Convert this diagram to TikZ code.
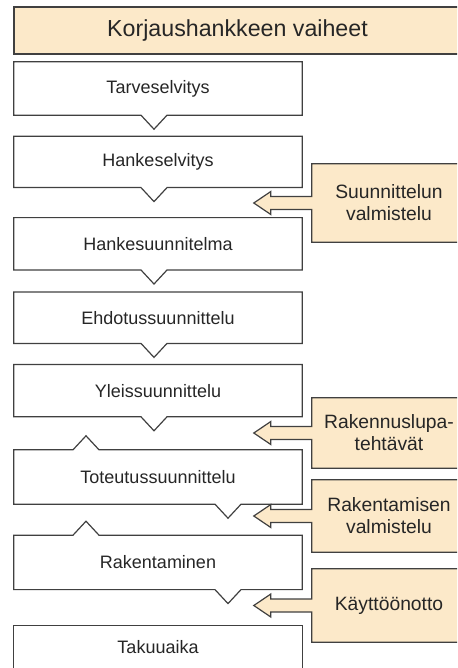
\documentclass[tikz,border=0pt]{standalone}
\usepackage{fontspec}
\setmainfont{Liberation Sans}
\usetikzlibrary{positioning,calc}
\definecolor{peach}{HTML}{FCE9C9}
\definecolor{edgegray}{HTML}{404040}
\definecolor{txtgray}{HTML}{262626}
\tikzset{
  stage/.style={minimum width=288pt, inner sep=0pt, text=txtgray,
                font=\fontsize{18}{21}\selectfont},
  callout/.style={fill=peach, minimum width=154pt, inner sep=0pt, align=center,
                  text=txtgray, font=\fontsize{19.3}{22}\selectfont},
  ttl/.style={draw=edgegray, fill=peach, line width=1.2pt, minimum width=447pt,
              minimum height=47pt, text=txtgray, font=\fontsize{23.2}{26}\selectfont},
  edge/.style={draw=edgegray, line width=1.2pt, line join=miter},
}
\begin{document}
\begin{tikzpicture}[x=1pt,y=-1pt]
    \useasboundingbox (0,0) rectangle (457,668);
    \clip (0,0) rectangle (457,668);
    \node[ttl] (title) at (237.5,30.5) {Korjaushankkeen vaiheet};
    % vaiheet
    \node[stage,minimum height=53pt] (s1) at (158,88.5) {Tarveselvitys};
    \node[stage,minimum height=51pt,below=21pt of s1] (s2) {Hankeselvitys};
    \node[stage,minimum height=52pt,below=30pt of s2] (s3) {Hankesuunnitelma};
    \node[stage,minimum height=51pt,below=22pt of s3] (s4) {Ehdotussuunnittelu};
    \node[stage,minimum height=52pt,below=21pt of s4] (s5) {Yleissuunnittelu};
    \node[stage,minimum height=54pt,below=33pt of s5] (s6) {Toteutussuunnittelu};
    \node[stage,minimum height=54pt,below=31pt of s6] (s7) {Rakentaminen};
    \node[stage,minimum height=43pt,below=36pt of s7] (s8) {Takuuaika};
    \foreach \s in {s1,s2,s3,s4,s5}
      \draw[edge] (\s.north west) -- (\s.north east) -- (\s.south east)
        -- ($(\s.south)+(9,0)$) -- ++(-13,14) -- ++(-13,-14)
        -- (\s.south west) -- cycle;
    \foreach \s in {s6,s7}
      \draw[edge] (\s.south west) -- (\s.north west)
        -- ($(\s.north)+(-85,0)$) -- ++(13,-14) -- ++(13,14)
        -- (\s.north east) -- (\s.south east)
        -- ($(\s.south)+(83,0)$) -- ++(-13,14) -- ++(-13,-14) -- cycle;
    \draw[edge] (s8.north west) rectangle (s8.south east);
    % tehtavat
    \node[callout,minimum height=78pt] (c1) at (389,203) {Suunnittelun\\valmistelu};
    \node[callout,minimum height=70pt] (c2) at (389,433) {Rakennuslupa-\\tehtävät};
    \node[callout,minimum height=72pt] (c3) at (389,516) {Rakentamisen\\valmistelu};
    \node[callout,minimum height=73pt] (c4) at (389,605.5) {Käyttöönotto};
    \foreach \c in {c1,c2,c3,c4} {
      \fill[peach] ($(\c.west)+(1,6.5)$) -- ++(-42,0) -- ++(0,5) -- ++(-17,-11.5)
        -- ++(17,-11.5) -- ++(0,5) -- ($(\c.west)+(1,-6.5)$) -- cycle;
      \draw[edge] (\c.north west) -- (\c.north east) -- (\c.south east)
        -- (\c.south west) -- ($(\c.west)+(0,6.5)$) -- ++(-41,0) -- ++(0,5)
        -- ++(-17,-11.5) -- ++(17,-11.5) -- ++(0,5) -- ($(\c.west)+(0,-6.5)$)
        -- cycle;
    }
  \end{tikzpicture}
\end{document}
